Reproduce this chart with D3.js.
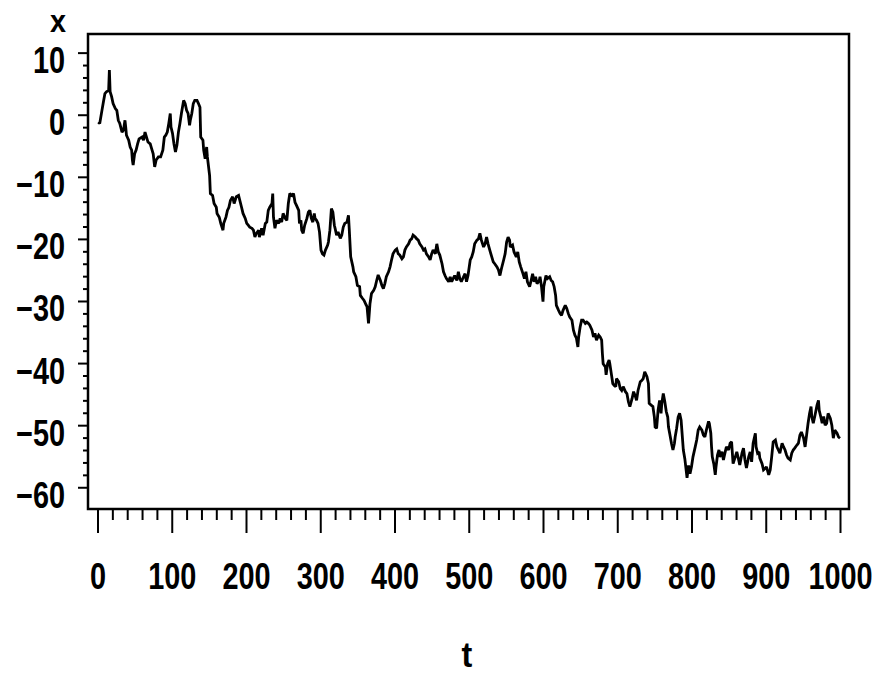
<!DOCTYPE html>
<html><head><meta charset="utf-8">
<script src="https://cdn.jsdelivr.net/npm/d3@7"></script>
<style>
body{margin:0;background:#fff;}
svg{display:block;}
.lbl{font-family:"Liberation Sans",Arial,sans-serif;font-weight:bold;fill:#000;}
</style></head>
<body>
<svg id="c" width="875" height="674"></svg>
<script>
// time index of traced points
const tValues = [
1,3,6,8,10,12,15,16,17,19,21,24,26,28,30,33,35,37,38,39,42,44,46,47,48,50,52,54,56,60,62,64,66,68,71,73,75,77,79,82,85,88,90,92,94,96,98,99,101,103,105,107,109,111,113,116,118,120,122,124,125,127,129,131,134,136,138,139,142,143,145,147,148,151,152,155,157,160,161,164,166,169,170,173,175,177,179,182,184,187,190,
194,196,199,201,203,205,208,210,212,214,217,218,220,221,223,226,228,230,232,235,236,237,239,241,244,246,248,250,253,255,257,259,262,264,266,268,271,272,274,275,277,279,282,284,286,288,290,292,293,295,297,299,301,303,305,307,310,311,313,315,317,319,320,322,324,327,329,331,333,336,338,339,341,344,345,348,350,353,354,357,359,362,363,365,367,369,372,374,376,378,381,383,385,387,389,392,
394,396,398,401,403,405,407,410,412,414,416,419,421,423,425,428,430,432,434,437,439,441,443,446,448,450,452,455,457,459,461,464,466,468,470,473,475,477,479,481,484,486,488,490,493,495,497,499,502,504,506,508,511,513,515,517,520,522,524,526,529,531,533,535,538,540,542,544,547,549,551,553,555,556,559,561,564,566,568,570,573,575,577,579,582,584,586,588,590,592,595,
596,598,600,601,604,606,609,611,613,615,617,618,621,623,625,627,630,632,634,636,639,641,643,645,647,648,650,652,654,657,659,661,663,666,668,670,672,675,677,679,680,681,684,685,687,689,690,692,694,696,698,699,702,704,706,708,711,713,715,717,720,722,724,726,728,731,733,735,737,740,742,743,746,748,750,751,753,755,757,759,760,762,764,766,768,769,771,773,775,777,778,780,782,784,786,787,789,791,794,796,
798,800,802,805,807,809,811,814,816,818,820,823,824,826,827,828,830,832,833,835,837,838,841,843,845,847,850,852,854,856,859,861,863,865,868,870,872,874,877,879,881,883,886,887,889,891,892,895,897,899,901,904,906,908,910,913,915,917,919,922,924,926,928,930,933,935,937,939,942,944,946,948,951,953,955,957,959,961,962,964,966,969,971,972,974,976,978,980,982,984,987,989,991,993,996,998,1000
];
// series values x(t)
const xValues = [
-1.2,-1.4,0.7,2.1,3.4,3.7,3.9,7.2,3.7,2.9,1.8,1.0,0.7,-0.9,-1.4,-2.8,-2.5,-0.9,-2.0,-3.3,-4.1,-5.2,-5.7,-7.3,-8.1,-6.3,-5.7,-4.7,-3.9,-3.6,-4.1,-2.8,-3.6,-4.4,-4.7,-5.5,-6.3,-8.4,-7.3,-6.8,-6.8,-5.7,-3.6,-3.3,-2.8,-1.4,0.2,-2.0,-3.0,-4.7,-6.0,-4.9,-2.8,-1.4,0.2,2.3,1.8,0.7,0.2,-1.7,-0.9,0.2,1.8,2.3,2.3,1.8,1.2,-3.6,-4.1,-5.7,-7.1,-5.2,-6.8,-9.8,-12.7,-13.0,-14.3,-14.9,-15.9,-16.5,-17.5,-18.6,-17.5,-16.5,-15.4,-14.9,-13.8,-13.2,-14.3,-13.2,-13.0,
-14.9,-15.9,-16.7,-17.5,-17.8,-18.1,-18.3,-18.6,-19.7,-19.1,-18.6,-19.7,-18.9,-18.3,-19.4,-17.5,-17.3,-15.4,-14.9,-14.3,-12.7,-16.5,-18.3,-17.0,-17.5,-16.7,-17.3,-15.9,-16.7,-17.0,-14.3,-12.7,-13.0,-12.7,-14.1,-14.6,-15.4,-17.5,-17.0,-18.6,-19.1,-17.8,-16.7,-15.7,-15.4,-16.7,-17.3,-15.9,-16.7,-17.0,-17.5,-18.9,-21.8,-22.4,-22.6,-21.8,-21.0,-20.5,-18.6,-15.1,-15.7,-17.8,-18.3,-19.4,-18.9,-19.9,-19.4,-18.1,-17.5,-17.3,-16.2,-18.3,-22.9,-24.5,-25.3,-26.1,-27.5,-27.7,-29.1,-29.6,-29.9,-30.7,-30.9,-33.6,-30.4,-28.8,-28.3,-27.7,-26.7,-25.8,-26.7,-27.5,-28.0,-27.2,-26.1,-25.3,
-24.5,-23.4,-22.4,-21.8,-21.6,-22.4,-22.6,-23.2,-22.9,-21.8,-21.3,-20.8,-20.2,-20.0,-19.4,-19.7,-20.0,-20.2,-20.8,-21.3,-21.8,-21.6,-22.4,-22.9,-23.4,-22.4,-21.8,-22.4,-20.8,-22.1,-22.6,-24.0,-25.3,-25.9,-26.4,-26.9,-26.1,-26.9,-26.4,-25.9,-26.7,-25.3,-26.4,-26.9,-26.1,-25.6,-26.9,-25.9,-23.4,-22.9,-22.1,-20.8,-20.2,-20.0,-19.1,-20.2,-21.3,-20.8,-19.7,-20.8,-22.1,-22.9,-23.7,-24.0,-24.5,-25.0,-25.9,-24.8,-23.4,-22.4,-20.5,-19.7,-20.2,-21.3,-21.0,-22.1,-22.9,-22.1,-23.7,-24.5,-25.6,-26.4,-25.3,-26.9,-27.7,-26.7,-25.6,-26.9,-26.1,-27.2,-26.7,
-26.1,-27.7,-30.1,-27.7,-25.9,-26.4,-26.1,-26.7,-26.9,-27.7,-29.1,-30.7,-31.5,-32.0,-32.3,-31.5,-30.7,-31.2,-32.0,-32.6,-33.1,-34.7,-35.5,-36.0,-37.4,-35.8,-34.2,-33.1,-33.1,-33.6,-33.4,-33.6,-33.9,-34.7,-35.8,-35.2,-36.3,-35.5,-35.8,-36.3,-38.5,-40.1,-40.6,-41.9,-40.1,-39.5,-40.1,-41.7,-43.3,-43.6,-43.8,-42.5,-43.0,-44.1,-44.4,-43.8,-44.6,-44.9,-46.2,-47.0,-45.7,-44.6,-45.2,-46.0,-44.4,-43.0,-42.8,-42.5,-41.4,-42.2,-43.3,-46.5,-46.8,-47.0,-48.7,-50.3,-50.5,-47.6,-46.0,-48.1,-46.5,-44.9,-46.2,-47.8,-48.7,-50.3,-51.6,-52.9,-54.0,-52.9,-51.9,-50.5,-48.7,-48.1,-49.2,-50.8,-54.0,-55.4,-58.5,-56.5,
-57.8,-56.7,-55.1,-53.5,-52.4,-50.8,-50.3,-50.8,-51.6,-51.9,-50.8,-49.4,-49.7,-51.3,-53.5,-55.1,-56.2,-58.0,-56.7,-54.8,-54.0,-55.1,-54.3,-55.6,-54.5,-53.5,-54.0,-52.9,-52.7,-56.2,-55.1,-54.3,-55.3,-56.4,-54.5,-53.7,-55.6,-56.9,-55.1,-54.3,-55.9,-52.9,-51.3,-53.5,-54.5,-54.3,-55.3,-56.2,-57.2,-57.0,-56.7,-58.0,-57.2,-55.1,-52.7,-52.4,-53.5,-54.0,-54.5,-52.9,-53.5,-54.0,-54.8,-55.3,-55.6,-54.5,-54.0,-53.7,-53.2,-52.9,-51.6,-51.1,-52.1,-53.5,-51.6,-49.7,-48.1,-47.0,-48.6,-49.7,-48.6,-46.8,-46.0,-47.6,-48.6,-49.7,-48.6,-50.0,-49.7,-48.1,-48.9,-50.0,-52.1,-50.8,-51.3,-51.9,-52.1
];
const xMajorTicks = [0,100,200,300,400,500,600,700,800,900,1000];
const xMinorTicks = d3.range(0, 1001, 20).filter(v => v % 100 !== 0);
const yMajorTicks = [-60,-50,-40,-30,-20,-10,0,10];
const yMinorTicks = d3.range(-60, 11, 2).filter(v => v % 10 !== 0);
const xTitle = "t";
const yTitle = "x";

const svg = d3.select("#c");
const L = 88, R = 849, T = 34, B = 509;
const x = d3.scaleLinear().domain([0, 1000]).range([97.5, 840]);
const y = d3.scaleLinear().domain([-63.5, 13]).range([B, T]);
const data = tValues.map((t, i) => ({t, v: xValues[i]}));
const fmt = d3.format("d");

// y axis
const gy = svg.append("g").attr("transform", `translate(${L},0)`)
  .call(d3.axisLeft(y).tickValues(yMajorTicks).tickSize(10).tickSizeOuter(0).tickFormat(fmt));
gy.select(".domain").remove();
gy.selectAll("line").attr("stroke", "#000").attr("stroke-width", 2);
gy.selectAll("text").attr("class", "lbl").attr("x", null).attr("dy", null)
  .style("font-size", "37px")
  .attr("transform", "translate(-23,20) scale(0.78,1)");
const gym = svg.append("g").attr("transform", `translate(${L},0)`)
  .call(d3.axisLeft(y).tickValues(yMinorTicks).tickSize(5).tickFormat(""));
gym.select(".domain").remove();
gym.selectAll("line").attr("stroke", "#000").attr("stroke-width", 2);

// x axis
const gx = svg.append("g").attr("transform", `translate(0,${B})`)
  .call(d3.axisBottom(x).tickValues(xMajorTicks).tickSize(24).tickSizeOuter(0).tickFormat(fmt));
gx.select(".domain").remove();
gx.selectAll("line").attr("stroke", "#000").attr("stroke-width", 2);
gx.selectAll("text").attr("class", "lbl").attr("y", null).attr("dy", null)
  .style("font-size", "37px")
  .attr("transform", "translate(0,80) scale(0.78,1)");
const gxm = svg.append("g").attr("transform", `translate(0,${B})`)
  .call(d3.axisBottom(x).tickValues(xMinorTicks).tickSize(11).tickFormat(""));
gxm.select(".domain").remove();
gxm.selectAll("line").attr("stroke", "#000").attr("stroke-width", 2);

// frame
svg.append("rect").attr("x", L).attr("y", T).attr("width", R - L).attr("height", B - T)
  .attr("fill", "none").attr("stroke", "#000").attr("stroke-width", 2.5);

// line
svg.append("path").datum(data)
  .attr("fill", "none").attr("stroke", "#000").attr("stroke-width", 2.8)
  .attr("stroke-linejoin", "miter").attr("stroke-miterlimit", 2)
  .attr("d", d3.line().x(d => x(d.t)).y(d => y(d.v)));

// titles
svg.append("text").attr("class", "lbl").attr("text-anchor", "middle")
  .attr("transform", "translate(58,32) scale(0.9,1)")
  .style("font-size", "32px").text(yTitle);
svg.append("text").attr("class", "lbl").attr("text-anchor", "middle")
  .attr("transform", "translate(467,667) scale(0.9,1)")
  .style("font-size", "36px").text(xTitle);
</script>
</body></html>
